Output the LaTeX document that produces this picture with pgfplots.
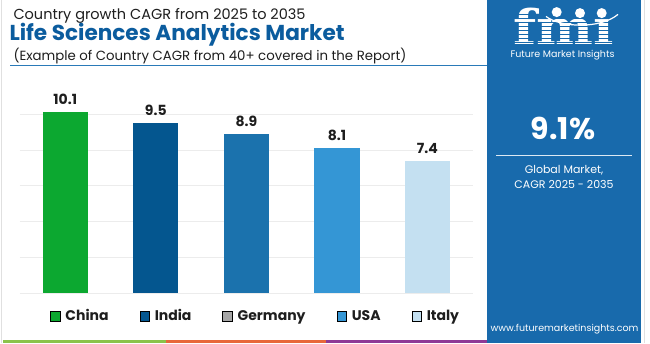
\documentclass[border=0pt]{standalone}
\usepackage{fontspec}
\setmainfont{Poppins}
\newfontfamily\logofont{DejaVu Serif}
\usepackage{pgfplots}
\pgfplotsset{compat=1.18}
\definecolor{cChina}{RGB}{12,168,48}
\definecolor{cIndia}{RGB}{4,86,143}
\definecolor{cGermany}{RGB}{27,114,173}
\definecolor{cUSA}{RGB}{52,150,213}
\definecolor{cItaly}{RGB}{196,224,241}
\definecolor{cLegGray}{RGB}{166,166,166}
\definecolor{panel}{RGB}{24,106,172}
\definecolor{titleblue}{RGB}{11,92,158}
\definecolor{txt}{RGB}{30,30,30}
\definecolor{gridc}{RGB}{236,236,236}
\definecolor{sGreen}{RGB}{139,195,74}
\definecolor{sOrange}{RGB}{232,104,58}
\definecolor{sPurple}{RGB}{142,58,150}
\definecolor{sepline}{RGB}{42,122,184}
\begin{document}
\begin{tikzpicture}[x=1pt,y=1pt]
\fill[white] (0,0) rectangle (650,343);
\draw[black!12, line width=0.8] (1,0) -- (1,343);
\draw[black!12, line width=0.8] (644,0) -- (644,343);
% titles
\node[anchor=base west, inner sep=0, text=txt, font=\fontsize{14.5}{16}\selectfont] at (13.3,323.7) {Country growth CAGR from 2025 to 2035};
\node[anchor=base west, inner sep=0, text=titleblue, font=\fontsize{21.6}{24}\selectfont\bfseries] at (9.3,303) {Life Sciences Analytics Market};
\node[anchor=base west, inner sep=0, text=txt, font=\fontsize{13.3}{16}\selectfont] at (13.3,283) {(Example of Country CAGR from 40+ covered in the Report)};
\draw[sepline, line width=0.8] (10,278) -- (487,278);
% bottom stripes
\fill[sGreen] (3,0) rectangle (165.7,3);
\fill[sOrange] (165.7,0) rectangle (326,3);
\fill[sPurple] (326,0) rectangle (487,3);
% chart
\begin{axis}[at={(20pt,50pt)}, anchor=south west, scale only axis,
  width=452.7pt, height=179.3pt,
  xmin=-0.5, xmax=4.5, ymin=0, ymax=10,
  axis line style={draw=none},
  xtick=\empty, ytick={0,2,4,6,8,10}, yticklabels={},
  major tick length=0pt,
  ymajorgrids, grid style={gridc, line width=0.9pt},
  clip=false,
  ybar, bar width=45.3pt, bar shift=0pt,
  nodes near coords,
  every node near coord/.append style={font=\fontsize{14}{16}\selectfont\bfseries, text=txt, inner sep=0pt, yshift=7pt, anchor=south},
  /pgf/number format/assume math mode=true,
  /pgf/number format/fixed, /pgf/number format/precision=1,
  legend image code/.code={\fill[#1] (0pt,-4.65pt) rectangle (9.3pt,4.65pt);},
  legend columns=5,
  legend style={at={(0.0663,-0.1266)}, anchor=west, draw=none, fill=none, inner sep=0pt,
    font=\fontsize{14}{16}\selectfont\bfseries, text=txt,
    /tikz/every odd column/.append style={column sep=3.5pt},
    /tikz/every even column/.append style={column sep=29pt}},
]
\addplot[fill=cChina, draw=none, forget plot] coordinates {(0,10.1)};
\addplot[fill=cIndia, draw=none, forget plot] coordinates {(1,9.5)};
\addplot[fill=cGermany, draw=none, forget plot] coordinates {(2,8.9)};
\addplot[fill=cUSA, draw=none, forget plot] coordinates {(3,8.1)};
\addplot[fill=cItaly, draw=none, forget plot] coordinates {(4,7.4)};
\addlegendimage{fill=cChina}
\addlegendimage{fill=cIndia}
\addlegendimage{fill=cLegGray}
\addlegendimage{fill=cUSA}
\addlegendimage{fill=cItaly}
\legend{China,India,Germany,USA,Italy}
\end{axis}
% right panel
\fill[panel] (487,0) rectangle (641,343);
\node[anchor=base, inner sep=0, text=white, font=\logofont\bfseries\fontsize{48}{48}\selectfont, xscale=1.12] at (564,298.5) {fm\char"0131};
\begin{scope}
\clip (500,295) rectangle (630,330);
\foreach \yy in {297,301,...,329} {\draw[panel, line width=1.1] (500,\yy) -- (630,\yy);}
\end{scope}
\fill[white] (556.7,331.3) circle (5);
\fill[white] (580,330.3) circle (5);
\fill[white] (601.7,330.3) circle (5);
\draw[white, line width=1.2] (546,327) .. controls (560,316) and (600,314) .. (618,329);
\node[anchor=base, inner sep=0, text=white, font=\fontsize{9.5}{11}\selectfont] at (562.5,285.5) {Future Market Insights};
\node[anchor=base, inner sep=0, text=white, font=\fontsize{30}{32}\selectfont\bfseries] at (563,203.7) {9.1\%};
\draw[white!85!panel, line width=1] (496,188.3) -- (632,188.3);
\node[anchor=base, inner sep=0, text=white, font=\fontsize{11}{13}\selectfont] at (564,169.7) {Global Market,};
\node[anchor=base, inner sep=0, text=white, font=\fontsize{11}{13}\selectfont] at (564,155.3) {CAGR 2025 - 2035};
\node[anchor=base, inner sep=0, text=white, font=\fontsize{9.5}{11}\selectfont] at (564.5,12) {www.futuremarketinsights.com};
\end{tikzpicture}
\end{document}
